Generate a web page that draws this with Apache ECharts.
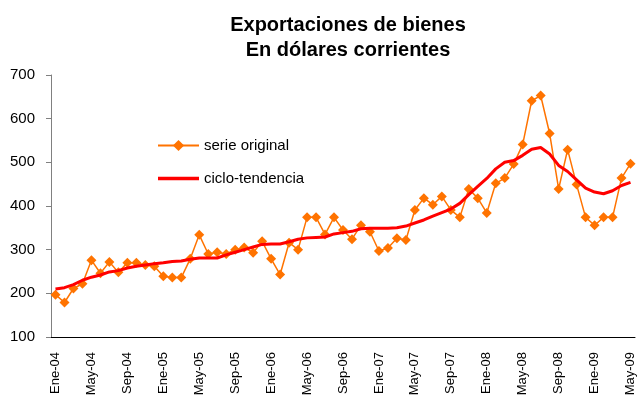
<!DOCTYPE html>
<html>
<head>
<meta charset="utf-8">
<script src="https://cdn.jsdelivr.net/npm/echarts@6/dist/echarts.min.js"></script>
<style>
  html, body { margin: 0; padding: 0; background: #fff; }
  #chart { width: 637px; height: 405px; }
</style>
</head>
<body>
<div id="chart"></div>
<script>
// meses en castellano, enero 2004 a mayo 2009
const monthNames = ['Ene', 'Feb', 'Mar', 'Abr', 'May', 'Jun', 'Jul', 'Ago', 'Sep', 'Oct', 'Nov', 'Dic'];
const years = ['04', '05', '06', '07', '08', '09'];
const months = [];
years.forEach(y => monthNames.forEach(m => months.push(m + '-' + y)));
const categories = months.slice(0, 65);

// serie original (millones de dólares)
const serieOriginal = [
  197, 179, 211, 222, 276, 246, 272, 248, 270, 270, 265, 262,
  239, 236, 236, 279, 334, 290, 294, 290, 300, 305, 293, 319,
  279, 243, 316, 300, 374, 374, 335, 374, 345, 324, 356, 341,
  297, 304, 326, 322, 391, 418, 403, 422, 391, 374, 439, 418,
  384, 452, 464, 496, 541, 641, 653, 566, 439, 529, 449, 374,
  356, 374, 374, 464, 497
];

// ciclo-tendencia
const cicloTendencia = [
  210, 213, 220, 230, 237, 242, 249, 252, 258, 262, 265, 268,
  270, 273, 274, 278, 281, 281, 281, 288, 294, 300, 306, 312,
  313, 313, 318, 324, 327, 328, 329, 336, 339, 342, 348, 349,
  349, 349, 350, 354, 361, 368, 377, 385, 393, 406, 426, 445,
  463, 485, 500, 504, 516, 530, 534, 519, 493, 479, 460, 441,
  432, 428, 435, 447, 454
];

const FONT = '"Liberation Sans", Arial, sans-serif';
const chart = echarts.init(document.getElementById('chart'));

chart.setOption({
  animation: false,
  title: {
    text: 'Exportaciones de bienes\nEn dólares corrientes',
    left: 343,
    textAlign: 'center',
    top: 8,
    textStyle: { fontFamily: FONT, fontSize: 20, fontWeight: 'bold', color: '#000', lineHeight: 25 }
  },
  legend: {
    orient: 'vertical',
    left: 152,
    top: 133,
    itemWidth: 41,
    itemHeight: 14,
    itemGap: 18,
    textStyle: { fontFamily: FONT, fontSize: 15, color: '#000' },
    data: [
      { name: 'serie original' },
      { name: 'ciclo-tendencia', icon: 'path://M0,0L41,0L41,3.5L0,3.5Z' }
    ]
  },
  grid: { left: 51, right: 1, top: 75, bottom: 68, containLabel: false },
  xAxis: {
    type: 'category',
    data: categories,
    boundaryGap: true,
    axisLine: { lineStyle: { color: '#000', width: 1 } },
    axisTick: { interval: 3, length: 5, lineStyle: { color: '#000' } },
    axisLabel: {
      interval: 3,
      rotate: 90,
      margin: 15,
      fontFamily: FONT,
      fontSize: 13,
      color: '#000'
    },
    splitLine: { show: false }
  },
  yAxis: {
    type: 'value',
    min: 100,
    max: 700,
    interval: 100,
    axisLine: { show: true, lineStyle: { color: '#808080', width: 1 } },
    axisTick: { show: true, length: 5, lineStyle: { color: '#808080' } },
    axisLabel: { margin: 16, fontFamily: FONT, fontSize: 15, color: '#000' },
    splitLine: { show: false }
  },
  series: [
    {
      name: 'serie original',
      type: 'line',
      data: serieOriginal,
      symbol: 'diamond',
      symbolSize: 10,
      showAllSymbol: true,
      itemStyle: { color: '#ff7300' },
      lineStyle: { color: '#ff7300', width: 1.5 },
      z: 2
    },
    {
      name: 'ciclo-tendencia',
      type: 'line',
      data: cicloTendencia,
      showSymbol: false,
      itemStyle: { color: '#ff0000' },
      lineStyle: { color: '#ff0000', width: 3 },
      z: 3
    }
  ]
});
</script>
</body>
</html>
